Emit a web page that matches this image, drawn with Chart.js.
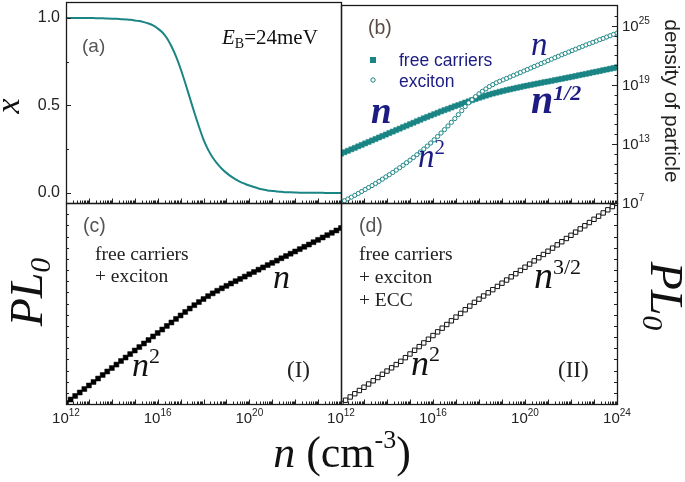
<!DOCTYPE html>
<html>
<head>
<meta charset="utf-8">
<script src="https://cdn.jsdelivr.net/npm/chart.js@4.4.1/dist/chart.umd.min.js"></script>
<style>
  body { margin: 0; background: #fff; }
  #wrap { position: relative; width: 685px; height: 482px; }
  #wrap canvas { position: absolute; left: 0; top: 0; }
</style>
</head>
<body>
<div id="wrap">
  <canvas id="pa" width="685" height="482"></canvas>
  <canvas id="pb" width="685" height="482"></canvas>
  <canvas id="pc" width="685" height="482"></canvas>
  <canvas id="pd" width="685" height="482"></canvas>
</div>
<script>
// log10 of carrier density n (cm^-3)
const logN = [12.0,12.2,12.4,12.6,12.8,13.0,13.2,13.4,13.6,13.8,14.0,14.2,14.4,14.6,14.8,15.0,15.2,15.4,15.6,15.8,
  16.0,16.2,16.4,16.6,16.8,17.0,17.2,17.4,17.6,17.8,18.0,18.2,18.4,18.6,18.8,19.0,19.2,19.4,19.6,19.8,
  20.0,20.2,20.4,20.6,20.8,21.0,21.2,21.4,21.6,21.8,22.0,22.2,22.4,22.6,22.8,23.0,23.2,23.4,23.6,23.8,24.0];
const logNFine = [12.00,12.15,12.30,12.45,12.60,12.75,12.90,13.05,13.20,13.35,13.50,13.65,13.80,13.95,14.10,14.25,
  14.40,14.55,14.70,14.85,15.00,15.15,15.30,15.45,15.60,15.75,15.90,16.05,16.20,16.35,16.50,16.65,16.80,16.95,
  17.10,17.25,17.40,17.55,17.70,17.85,18.00,18.15,18.30,18.45,18.60,18.75,18.90,19.05,19.20,19.35,19.50,19.65,
  19.80,19.95,20.10,20.25,20.40,20.55,20.70,20.85,21.00,21.15,21.30,21.45,21.60,21.75,21.90,22.05,22.20,22.35,
  22.50,22.65,22.80,22.95,23.10,23.25,23.40,23.55,23.70,23.85,24.00];

// (a) fraction x
const fractionX = [1.000,1.000,1.000,1.000,0.999,0.999,0.999,0.998,0.998,0.997,0.996,0.995,0.993,0.991,0.989,
  0.986,0.982,0.976,0.968,0.957,0.940,0.918,0.885,0.838,0.780,0.710,0.630,0.545,0.460,0.380,0.305,0.248,0.203,
  0.168,0.139,0.115,0.095,0.078,0.064,0.053,0.043,0.034,0.026,0.020,0.015,0.012,0.009,0.007,0.005,0.004,0.003,
  0.002,0.002,0.001,0.001,0.001,0.001,0.000,0.000,0.000,0.000];

// (b) log10 density of particle
const freeCarriers = [12.00,12.15,12.30,12.45,12.60,12.75,12.90,13.05,13.20,13.35,13.50,13.65,13.80,13.95,14.10,
  14.25,14.40,14.55,14.70,14.85,15.00,15.15,15.30,15.45,15.60,15.74,15.88,16.02,16.16,16.30,16.43,16.56,16.69,
  16.82,16.94,17.07,17.20,17.32,17.44,17.56,17.68,17.79,17.90,18.01,18.11,18.20,18.29,18.38,18.46,18.54,18.62,
  18.70,18.77,18.85,18.92,18.99,19.06,19.13,19.20,19.27,19.33,19.40,19.47,19.54,19.61,19.68,19.75,19.82,19.89,
  19.97,20.04,20.11,20.18,20.26,20.33,20.40,20.48,20.55,20.63,20.70,20.78];
const excitons = [7.05,7.23,7.41,7.59,7.78,7.97,8.17,8.37,8.57,8.77,8.98,9.20,9.42,9.65,9.87,10.10,10.34,10.58,
  10.83,11.09,11.35,11.62,11.90,12.18,12.48,12.78,13.09,13.41,13.75,14.10,14.45,14.82,15.19,15.57,15.97,16.37,
  16.79,17.17,17.48,17.80,18.08,18.34,18.58,18.82,19.02,19.20,19.36,19.50,19.65,19.80,19.95,20.10,20.25,20.40,
  20.55,20.70,20.85,21.00,21.15,21.30,21.45,21.60,21.75,21.90,22.05,22.19,22.33,22.47,22.61,22.76,22.90,23.04,
  23.17,23.31,23.44,23.58,23.71,23.85,23.98,24.12,24.25];

// (c), (d) PL0, log scale, arbitrary units
const pl0NoEcc = [0.09,0.40,0.72,1.03,1.34,1.66,1.97,2.28,2.60,2.91,3.22,3.53,3.85,4.16,4.47,4.79,5.10,5.42,5.73,
  6.05,6.36,6.67,6.99,7.30,7.62,7.93,8.24,8.55,8.85,9.13,9.40,9.66,9.91,10.14,10.36,10.58,10.79,11.00,11.20,
  11.41,11.62,11.82,12.03,12.23,12.44,12.64,12.84,13.05,13.25,13.46,13.66,13.87,14.08,14.28,14.49,14.70,14.91,
  15.12,15.33,15.54,15.76];
const pl0Ecc = [0.05,0.34,0.63,0.92,1.21,1.50,1.79,2.08,2.37,2.66,2.95,3.24,3.53,3.82,4.15,4.48,4.81,5.14,5.47,
  5.80,6.13,6.46,6.79,7.12,7.45,7.78,8.11,8.44,8.77,9.10,9.39,9.67,9.96,10.24,10.53,10.82,11.10,11.39,11.67,
  11.96,12.25,12.53,12.82,13.10,13.39,13.68,13.96,14.25,14.53,14.82,15.11,15.39,15.68,15.96,16.25,16.54,16.82,
  17.11,17.39,17.68,17.97];

const xTickExp = [12, 16, 20, 24];
const densityTickExp = [7, 13, 19, 25];
const fractionTicks = [0, 0.5, 1.0];

const SANS = '"Liberation Sans", Arial, sans-serif';
const SERIF = '"Liberation Serif", "Times New Roman", serif';
const TEAL = '#1b8585';
const NAVY = '#1c1c82';
const GRAY = '#555';

function pts(xs, ys) {
  return xs.map((x, i) => ({ x: x, y: ys[i] }));
}

function rich(ctx, x, y, parts, align) {
  let w = 0;
  parts.forEach(p => { ctx.font = p.f; p.w = ctx.measureText(p.t).width; w += p.w; });
  let cx = align === 'center' ? x - w / 2 : x;
  ctx.textAlign = 'left';
  ctx.textBaseline = 'alphabetic';
  parts.forEach(p => {
    ctx.font = p.f;
    ctx.fillStyle = p.c || '#111';
    ctx.fillText(p.t, cx, y + (p.dy || 0));
    cx += p.w;
  });
}

function pow10(ctx, x, y, exp, align) {
  rich(ctx, x, y, [
    { t: '10', f: '15px ' + SANS, c: '#222' },
    { t: String(exp), f: '10px ' + SANS, c: '#222', dy: -7 }
  ], align);
}

function frame(chart) {
  const ctx = chart.ctx, a = chart.chartArea;
  ctx.lineWidth = 1.3;
  ctx.strokeStyle = '#1a1a1a';
  ctx.strokeRect(a.left + 0.5, a.top + 0.5, a.right - a.left, a.bottom - a.top);
}

function xTicks(chart) {
  const ctx = chart.ctx, s = chart.scales.x, y = chart.chartArea.bottom;
  ctx.lineWidth = 1;
  ctx.strokeStyle = '#222';
  ctx.beginPath();
  for (let d = 12; d <= 24; d++) {
    const px = Math.round(s.getPixelForValue(d)) + 0.5;
    ctx.moveTo(px, y); ctx.lineTo(px, y - 4.5);
    if (d < 24) {
      for (let k = 2; k <= 9; k++) {
        const q = Math.round(s.getPixelForValue(d + Math.log10(k))) + 0.5;
        ctx.moveTo(q, y); ctx.lineTo(q, y - 2.5);
      }
    }
  }
  ctx.stroke();
}

function yTicks(chart, side, values, len) {
  const ctx = chart.ctx, s = chart.scales.y, a = chart.chartArea;
  const x = side === 'left' ? a.left : a.right;
  const dir = side === 'left' ? 1 : -1;
  ctx.lineWidth = 1;
  ctx.strokeStyle = '#222';
  ctx.beginPath();
  values.forEach(v => {
    const py = Math.round(s.getPixelForValue(v)) + 0.5;
    ctx.moveTo(x, py); ctx.lineTo(x + dir * len, py);
  });
  ctx.stroke();
}

function rotated(ctx, cx, cy, angle, parts, baseShift) {
  ctx.save();
  ctx.translate(cx, cy);
  ctx.rotate(angle);
  rich(ctx, 0, baseShift, parts, 'center');
  ctx.restore();
}

function range(a, b) {
  const out = [];
  for (let v = a; v <= b; v++) out.push(v);
  return out;
}

function panel(id, pad, yMin, yMax, datasets, deco) {
  return new Chart(document.getElementById(id), {
    type: 'line',
    data: { datasets: datasets },
    options: {
      responsive: false,
      animation: false,
      events: [],
      layout: { padding: pad },
      plugins: { legend: { display: false }, tooltip: { enabled: false } },
      scales: {
        x: { type: 'linear', min: 12, max: 24, display: false },
        y: { type: 'linear', min: yMin, max: yMax, display: false }
      }
    },
    plugins: [{ id: 'deco', afterDraw: deco }]
  });
}

// (a)
panel('pa', { left: 66, top: 2, right: 344, bottom: 279 }, -0.057, 1.091, [{
  data: pts(logN, fractionX),
  borderColor: TEAL,
  borderWidth: 2,
  pointRadius: 0,
  cubicInterpolationMode: 'monotone',
  clip: 0
}], function (chart) {
  const ctx = chart.ctx, s = chart.scales.y;
  ctx.save();
  frame(chart);
  xTicks(chart);
  yTicks(chart, 'left', fractionTicks, 5);
  yTicks(chart, 'left', [0.25, 0.75], 3);
  ctx.font = '16px ' + SANS;
  ctx.fillStyle = '#222';
  ctx.textAlign = 'right';
  ctx.textBaseline = 'middle';
  fractionTicks.forEach(v => ctx.fillText(v.toFixed(1), 60, s.getPixelForValue(v)));
  rotated(ctx, 13, 106, -Math.PI / 2, [{ t: 'x', f: 'italic 34px ' + SERIF, c: '#111' }], 6);
  rich(ctx, 82, 52, [{ t: '(a)', f: '19px ' + SANS, c: GRAY }]);
  rich(ctx, 222, 44, [
    { t: 'E', f: 'italic 21px ' + SERIF },
    { t: 'B', f: '14px ' + SERIF, dy: 4 },
    { t: '=24meV', f: '21px ' + SERIF }
  ]);
  ctx.restore();
});

// (b)
panel('pb', { left: 341, top: 2, right: 68, bottom: 279 }, 7, 27.1, [{
  data: pts(logNFine, excitons),
  showLine: false,
  pointStyle: 'circle',
  pointRadius: 2.1,
  pointBorderWidth: 1,
  pointBorderColor: TEAL,
  pointBackgroundColor: '#fff',
  clip: 0
}, {
  data: pts(logNFine, freeCarriers),
  showLine: false,
  pointStyle: 'rect',
  pointRadius: 3.6,
  pointBorderWidth: 0.5,
  pointBorderColor: TEAL,
  pointBackgroundColor: TEAL,
  clip: 0
}], function (chart) {
  const ctx = chart.ctx, s = chart.scales.y;
  ctx.save();
  frame(chart);
  xTicks(chart);
  yTicks(chart, 'right', range(8, 26), 2.5);
  yTicks(chart, 'right', densityTickExp, 5);
  densityTickExp.forEach(e => pow10(ctx, 622, s.getPixelForValue(e) + 5, e, 'left'));
  rotated(ctx, 672, 101, Math.PI / 2, [{ t: 'density of particle', f: '21px ' + SANS, c: '#222' }], 7);
  rich(ctx, 368, 34, [{ t: '(b)', f: '19.5px ' + SANS, c: '#5a4c44' }]);
  // legend
  ctx.fillStyle = TEAL;
  ctx.fillRect(370, 57, 6, 6);
  ctx.beginPath();
  ctx.arc(373, 80, 2.2, 0, Math.PI * 2);
  ctx.fillStyle = '#fff';
  ctx.fill();
  ctx.lineWidth = 1;
  ctx.strokeStyle = TEAL;
  ctx.stroke();
  rich(ctx, 399, 66, [{ t: 'free carriers', f: '17.5px ' + SANS, c: NAVY }]);
  rich(ctx, 399, 87, [{ t: 'exciton', f: '17.5px ' + SANS, c: NAVY }]);
  // slopes
  rich(ctx, 371, 123, [{ t: 'n', f: 'bold italic 37px ' + SERIF, c: NAVY }]);
  rich(ctx, 418, 167, [
    { t: 'n', f: 'italic 33px ' + SERIF, c: NAVY },
    { t: '2', f: '21px ' + SERIF, c: NAVY, dy: -13 }
  ]);
  rich(ctx, 531, 55, [{ t: 'n', f: 'italic 33px ' + SERIF, c: NAVY }]);
  rich(ctx, 531, 113, [
    { t: 'n', f: 'bold italic 40px ' + SERIF, c: NAVY },
    { t: '1/2', f: 'bold italic 22px ' + SERIF, c: NAVY, dy: -13 }
  ]);
  ctx.restore();
});

// (c)
panel('pc', { left: 66, top: 203, right: 344, bottom: 78 }, 0, 18, [{
  data: pts(logN, pl0NoEcc),
  showLine: false,
  pointStyle: 'rect',
  pointRadius: 3.5,
  pointBorderWidth: 0.5,
  pointBorderColor: '#000',
  pointBackgroundColor: '#000',
  clip: 0
}], function (chart) {
  const ctx = chart.ctx, sx = chart.scales.x;
  ctx.save();
  frame(chart);
  xTicks(chart);
  yTicks(chart, 'left', range(1, 17), 3);
  xTickExp.slice(0, 3).forEach(e => pow10(ctx, sx.getPixelForValue(e), 423, e, 'center'));
  rotated(ctx, 27, 292, -Math.PI / 2, [
    { t: 'PL', f: 'italic 46px ' + SERIF },
    { t: '0', f: 'italic 30px ' + SERIF, dy: 8 }
  ], 15);
  rich(ctx, 83, 232, [{ t: '(c)', f: '19.5px ' + SANS, c: GRAY }]);
  rich(ctx, 95, 260, [{ t: 'free carriers', f: '19.5px ' + SERIF, c: '#222' }]);
  rich(ctx, 95, 282, [{ t: '+ exciton', f: '19.5px ' + SERIF, c: '#222' }]);
  rich(ctx, 273, 288, [{ t: 'n', f: 'italic 34px ' + SERIF }]);
  rich(ctx, 132, 376, [
    { t: 'n', f: 'italic 34px ' + SERIF },
    { t: '2', f: '22px ' + SERIF, dy: -13 }
  ]);
  rich(ctx, 287, 377, [{ t: '(I)', f: '23px ' + SERIF, c: '#222' }]);
  ctx.restore();
});

// (d)
panel('pd', { left: 341, top: 203, right: 68, bottom: 78 }, 0, 18, [{
  data: pts(logN, pl0Ecc),
  showLine: false,
  pointStyle: 'rect',
  pointRadius: 3.1,
  pointBorderWidth: 1,
  pointBorderColor: '#111',
  pointBackgroundColor: '#fff',
  clip: 0
}], function (chart) {
  const ctx = chart.ctx, sx = chart.scales.x;
  ctx.save();
  frame(chart);
  xTicks(chart);
  yTicks(chart, 'right', range(1, 17), 3);
  xTickExp.forEach(e => pow10(ctx, sx.getPixelForValue(e), 423, e, 'center'));
  rotated(ctx, 666, 296, Math.PI / 2, [
    { t: 'PL', f: 'italic 46px ' + SERIF },
    { t: '0', f: 'italic 30px ' + SERIF, dy: 8 }
  ], 15);
  rich(ctx, 359, 232, [{ t: '(d)', f: '19.5px ' + SANS, c: GRAY }]);
  rich(ctx, 359, 260, [{ t: 'free carriers', f: '19.5px ' + SERIF, c: '#222' }]);
  rich(ctx, 359, 283, [{ t: '+ exciton', f: '19.5px ' + SERIF, c: '#222' }]);
  rich(ctx, 359, 306, [{ t: '+ ECC', f: '19.5px ' + SERIF, c: '#222' }]);
  rich(ctx, 534, 288, [
    { t: 'n', f: 'italic 38px ' + SERIF },
    { t: '3/2', f: '22px ' + SERIF, dy: -14 }
  ]);
  rich(ctx, 411, 375, [
    { t: 'n', f: 'italic 36px ' + SERIF },
    { t: '2', f: '22px ' + SERIF, dy: -14 }
  ]);
  rich(ctx, 558, 377, [{ t: '(II)', f: '23px ' + SERIF, c: '#222' }]);
  // shared axis title
  rich(ctx, 342, 467, [
    { t: 'n', f: 'italic 44px ' + SERIF },
    { t: ' (cm', f: '44px ' + SERIF },
    { t: '-3', f: '26px ' + SERIF, dy: -19 },
    { t: ')', f: '44px ' + SERIF }
  ], 'center');
  ctx.restore();
});
</script>
</body>
</html>
